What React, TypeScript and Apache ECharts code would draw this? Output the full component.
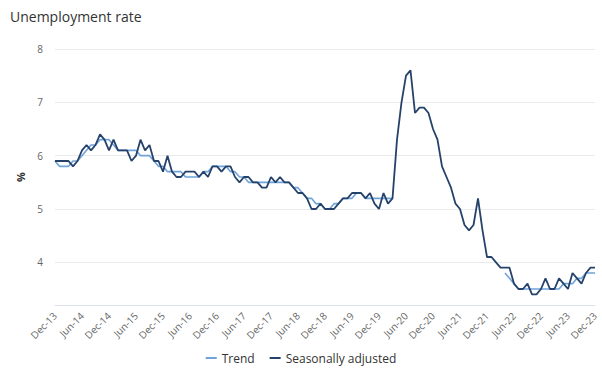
import React, { useEffect, useRef } from "react";
import * as echarts from "echarts";

const MONTHS = ["Jan", "Feb", "Mar", "Apr", "May", "Jun", "Jul", "Aug", "Sep", "Oct", "Nov", "Dec"];
const START_YEAR = 2013;
const START_MONTH = 11; // December
const MONTH_COUNT = 121;

const categories: string[] = [];
for (let k = 0; k < MONTH_COUNT; k++) {
  const m = (START_MONTH + k) % 12;
  const y = START_YEAR + Math.floor((START_MONTH + k) / 12);
  categories.push(`${MONTHS[m]}-${String(y).slice(2)}`);
}

const seasonallyAdjusted: number[] = [
  5.9, 5.9, 5.9, 5.9, 5.8, 5.9, 6.1, 6.2, 6.1, 6.2, 6.4, 6.3, 6.1,
  6.3, 6.1, 6.1, 6.1, 5.9, 6.0, 6.3, 6.1, 6.2, 5.9, 5.9, 5.7,
  6.0, 5.7, 5.6, 5.6, 5.7, 5.7, 5.7, 5.6, 5.7, 5.6, 5.8, 5.8,
  5.7, 5.8, 5.8, 5.6, 5.5, 5.6, 5.6, 5.5, 5.5, 5.4, 5.4, 5.6,
  5.5, 5.6, 5.5, 5.5, 5.4, 5.3, 5.3, 5.2, 5.0, 5.0, 5.1, 5.0,
  5.0, 5.0, 5.1, 5.2, 5.2, 5.3, 5.3, 5.3, 5.2, 5.3, 5.1, 5.0,
  5.3, 5.1, 5.2, 6.3, 7.0, 7.5, 7.6, 6.8, 6.9, 6.9, 6.8, 6.5,
  6.3, 5.8, 5.6, 5.4, 5.1, 5.0, 4.7, 4.6, 4.7, 5.2, 4.6, 4.1,
  4.1, 4.0, 3.9, 3.9, 3.9, 3.6, 3.5, 3.5, 3.6, 3.4, 3.4, 3.5,
  3.7, 3.5, 3.5, 3.7, 3.6, 3.5, 3.8, 3.7, 3.6, 3.8, 3.9, 3.9,
];

const trend: (number | null)[] = [
  5.9, 5.8, 5.8, 5.8, 5.9, 5.9, 6.0, 6.1, 6.2, 6.2, 6.3, 6.3, 6.3,
  6.2, 6.1, 6.1, 6.1, 6.1, 6.1, 6.0, 6.0, 6.0, 5.9, 5.8, 5.8,
  5.7, 5.7, 5.7, 5.7, 5.6, 5.6, 5.6, 5.6, 5.7, 5.7, 5.8, 5.8,
  5.8, 5.8, 5.7, 5.7, 5.6, 5.6, 5.5, 5.5, 5.5, 5.5, 5.5, 5.5,
  5.5, 5.5, 5.5, 5.5, 5.4, 5.4, 5.3, 5.2, 5.2, 5.1, 5.1, 5.0,
  5.0, 5.1, 5.1, 5.2, 5.2, 5.2, 5.3, 5.3, 5.2, 5.2, 5.2, 5.2,
  5.2, 5.2, 5.2, null, null, null, null, null, null, null, null, null,
  null, null, null, null, null, null, null, null, null, null, null, null,
  null, null, null, 3.8, 3.7, 3.6, 3.5, 3.5, 3.5, 3.5, 3.5, 3.5,
  3.5, 3.5, 3.5, 3.5, 3.6, 3.6, 3.6, 3.7, 3.7, 3.8, 3.8, 3.8,
];

const FONT = "Open Sans";

export default function App() {
  const ref = useRef<HTMLDivElement>(null);
  useEffect(() => {
    if (!ref.current) return;
    const chart = echarts.init(ref.current, null, { renderer: "svg" });
    chart.setOption({
      animation: false,
      textStyle: { fontFamily: FONT },
      title: {
        text: "Unemployment rate",
        left: 5,
        top: 4,
        textStyle: { fontFamily: FONT, fontSize: 14, fontWeight: "normal", color: "#333333" },
      },
      legend: {
        bottom: 2,
        left: "center",
        icon: "rect",
        itemWidth: 11,
        itemHeight: 2,
        itemGap: 15,
        textStyle: { fontFamily: FONT, fontSize: 12, color: "#333333" },
        data: ["Trend", "Seasonally adjusted"],
      },
      grid: { left: 55, right: 7, top: 49, bottom: 66 },
      xAxis: {
        type: "category",
        data: categories,
        boundaryGap: false,
        axisLine: { show: true, lineStyle: { color: "#dde2ea", width: 1 } },
        axisTick: { show: false },
        axisLabel: {
          interval: 5,
          rotate: 45,
          fontFamily: FONT,
          fontSize: 10,
          color: "#666666",
          margin: 9,
        },
        splitLine: { show: false },
      },
      yAxis: {
        type: "value",
        min: 3.2,
        max: 8,
        interval: 0.2,
        name: "%",
        nameLocation: "middle",
        nameRotate: 90,
        nameGap: 24,
        nameTextStyle: { fontFamily: FONT, fontSize: 11, color: "#333333", fontWeight: "bold" },
        axisLine: { show: false },
        axisTick: { show: false },
        axisLabel: {
          fontFamily: FONT,
          fontSize: 10,
          color: "#666666",
          margin: 12,
          formatter: (v: number) =>
            Math.abs(v - Math.round(v)) < 1e-6 ? String(Math.round(v)) : "",
        },
        splitLine: {
          show: true,
          lineStyle: {
            color: ["rgba(0,0,0,0)", "rgba(0,0,0,0)", "rgba(0,0,0,0)", "rgba(0,0,0,0)", "#e9eaee"],
            width: 1,
          },
        },
      },
      series: [
        {
          name: "Trend",
          type: "line",
          data: trend,
          symbol: "none",
          connectNulls: false,
          lineStyle: { color: "#6fa3da", width: 1.6 },
          itemStyle: { color: "#6fa3da" },
          z: 2,
        },
        {
          name: "Seasonally adjusted",
          type: "line",
          data: seasonallyAdjusted,
          symbol: "none",
          lineStyle: { color: "#26426b", width: 1.8 },
          itemStyle: { color: "#26426b" },
          z: 3,
        },
      ],
    });
    return () => chart.dispose();
  }, []);
  return (
    <div
      ref={ref}
      style={{ position: "fixed", left: 0, top: 0, width: 602, height: 371, background: "#ffffff" }}
    />
  );
}
